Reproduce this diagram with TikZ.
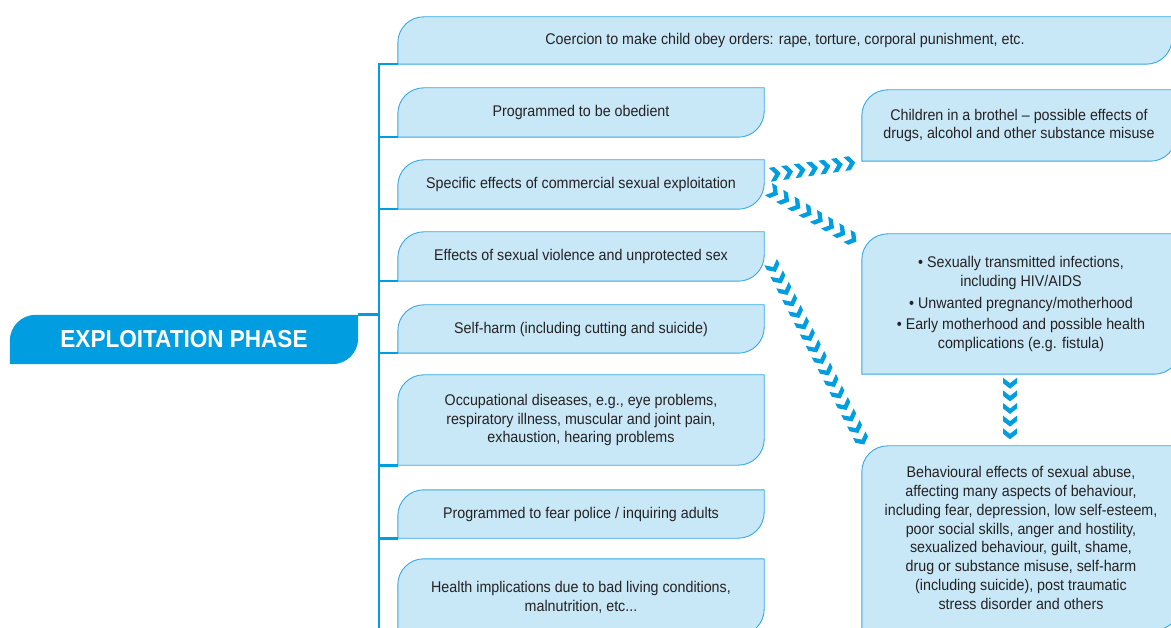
\documentclass[tikz,border=0pt]{standalone}
\usepackage{fontspec}
\setmainfont{Liberation Sans}[FakeStretch=0.92]
\usetikzlibrary{decorations.markings,backgrounds}
\definecolor{leafblue}{RGB}{200,232,247}
\definecolor{edgeblue}{RGB}{52,170,226}
\definecolor{phaseblue}{RGB}{0,158,224}
\definecolor{inkgray}{RGB}{38,34,35}
\newcommand{\leafpath}[2]{\path[#2] (#1.south west) -- ([yshift=-26pt]#1.north west) .. controls ([yshift=-11.6pt]#1.north west) and ([xshift=11.6pt]#1.north west) .. ([xshift=26pt]#1.north west) -- (#1.north east) -- ([yshift=26pt]#1.south east) .. controls ([yshift=11.6pt]#1.south east) and ([xshift=-11.6pt]#1.south east) .. ([xshift=-26pt]#1.south east) -- cycle;}

\begin{document}
\begin{tikzpicture}[x=1pt, y=-1pt,
						    leaf/.style={inner sep=0pt, align=center, text=inkgray, font=\fontsize{15.5}{18.8}\selectfont},
						    trunk/.style={draw=phaseblue, line width=2.6pt},
						    chevrons/.style={
						        decoration={
						            markings,
						            mark=between positions 0 and 1 step #1 with {\fill[phaseblue] (-5.5,7) -- (0,7) -- (5.5,0) -- (0,-7) -- (-5.5,-7) -- (0,0) -- cycle;}
						        },
						        decorate
							}
						]
						\useasboundingbox (0,0) rectangle (1171,628);
						\node[leaf, minimum width=348, minimum height=49, text=white, font=\fontsize{24.5}{28}\selectfont\bfseries] (phase) at (184,339.5) {EXPLOITATION PHASE};
						\node[leaf, minimum width=774, minimum height=47] (coerce) at (785,40.5) {Coercion to make child obey orders: rape, torture, corporal punishment, etc.};
						\node[leaf, minimum width=366, minimum height=49] (obey) at (581,112.5) {Programmed to be obedient};
						\node[leaf, minimum width=366, minimum height=49] (spec) at (581,184.5) {Specific effects of commercial sexual exploitation};
						\node[leaf, minimum width=366, minimum height=49] (violence) at (581,256.5) {Effects of sexual violence and unprotected sex};
						\node[leaf, minimum width=366, minimum height=48] (selfharm) at (581,329) {Self-harm (including cutting and suicide)};
						\node[leaf, minimum width=366, minimum height=90] (occup) at (581,420) {Occupational diseases, e.g., eye problems,\\respiratory illness, muscular and joint pain,\\exhaustion, hearing problems};
						\node[leaf, minimum width=366, minimum height=48] (fear) at (581,514) {Programmed to fear police / inquiring adults};
						\node[leaf, minimum width=366, minimum height=76] (health) at (581,597) {Health implications due to bad living conditions,\\malnutrition, etc...};
						\node[leaf, minimum width=314, minimum height=71] (brothel) at (1019,125.5) {Children in a brothel -- possible effects of\\drugs, alcohol and other substance misuse};
						\node[leaf, minimum width=318, minimum height=140] (sti) at (1021,304) {\textbullet{} Sexually transmitted infections,\\including HIV/AIDS\\[3pt]\textbullet{} Unwanted pregnancy/motherhood\\[3pt]\textbullet{} Early motherhood and possible health\\complications (e.g. fistula)};
						\node[leaf, minimum width=318, minimum height=184] (behav) at (1021,538) {Behavioural effects of sexual abuse,\\affecting many aspects of behaviour,\\including fear, depression, low self-esteem,\\poor social skills, anger and hostility,\\sexualized behaviour, guilt, shame,\\drug or substance misuse, self-harm\\(including suicide), post traumatic\\stress disorder and others};
						\begin{pgfonlayer}{background}
						\leafpath{phase}{fill=phaseblue}
						\foreach \n in {coerce,obey,spec,violence,selfharm,occup,fear,health,brothel,sti,behav}
						    {\leafpath{\n}{fill=leafblue, draw=edgeblue, line width=0.9pt}}
						\end{pgfonlayer}
						\coordinate (trunkend) at (379,628);
						\draw[trunk] (coerce.south west) -| (trunkend);
						\foreach \n in {obey,spec,violence,selfharm,occup,fear}
						    \draw[trunk] (\n.south west) -- (\n.south west -| trunkend);
						\draw[trunk] (phase.north east) -- (phase.north east -| trunkend);
						\path[chevrons=0.1666] ([shift={(11,-10.5)}]spec.east) -- ([shift={(-12,2)}]brothel.south west);
						\path[chevrons=0.1428] ([shift={(9,7.5)}]spec.east) -- ([shift={(-10,5)}]sti.north west);
						\path[chevrons=0.0666] ([shift={(9,10.5)}]violence.east) -- ([shift={(0,-6)}]behav.north west);
						\path[chevrons=0.2499] ([shift={(-11,9)}]sti.south) -- ([shift={(-11,-12)}]behav.north);
					\end{tikzpicture}
\end{document}
